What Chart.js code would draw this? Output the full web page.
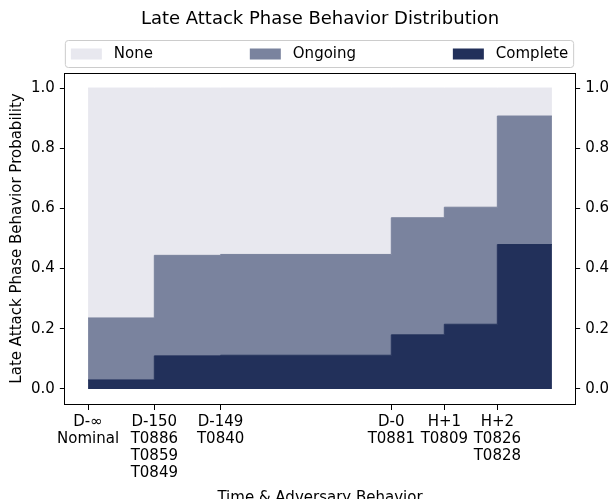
<!DOCTYPE html>
<html>
<head>
<meta charset="utf-8">
<script src="https://cdn.jsdelivr.net/npm/chart.js@4.4.1/dist/chart.umd.min.js"></script>
<style>
  body { margin: 0; background: #fff; }
</style>
</head>
<body>
<canvas id="graficoFases" width="612" height="499"></canvas>
<script>
// Dados
const etapas = [
    ['D-∞', 'Nominal'],
    ['D-150', 'T0886', 'T0859', 'T0849'],
    ['D-149', 'T0840'],
    ['D-0', 'T0881'],
    ['H+1', 'T0809'],
    ['H+2', 'T0826', 'T0828']
];
const posicoes = [0, 1.25, 2.5, 5.72, 6.72, 7.72];
const fimX = 8.75;
const completo = [0.030, 0.110, 0.112, 0.180, 0.215, 0.480];
const emAndamento = [0.206, 0.334, 0.335, 0.389, 0.389, 0.427];
const nenhum = [0.764, 0.556, 0.553, 0.431, 0.396, 0.093];
const ticksY = [0, 0.2, 0.4, 0.6, 0.8, 1.0];

const titulo = 'Late Attack Phase Behavior Distribution';
const cores = { nenhum: '#e8e8ef', andamento: '#7a839e', completo: '#22305a' };
const fonte = 'DejaVu Sans';

Chart.defaults.font.family = fonte;
Chart.defaults.color = '#000';

// cada degrau vale da sua posição até a próxima; o último vai até fimX
function pontos(valores) {
    const lista = posicoes.map((x, i) => ({ x: x, y: valores[i] }));
    lista.push({ x: fimX, y: valores[valores.length - 1] });
    return lista;
}

function serie(label, valores, cor, fill) {
    return {
        label: label,
        data: pontos(valores),
        backgroundColor: cor,
        borderColor: cor,
        borderWidth: 1,
        pointRadius: 0,
        stepped: true,
        fill: fill,
        yAxisID: 'y'
    };
}

// linha de cima do eixo (as outras vêm das bordas das escalas)
const moldura = {
    id: 'moldura',
    afterDraw(chart) {
        const { ctx, chartArea: a } = chart;
        ctx.save();
        ctx.strokeStyle = '#000';
        ctx.lineWidth = 1;
        ctx.beginPath();
        ctx.moveTo(a.left, Math.round(a.top) + 0.5);
        ctx.lineTo(a.right, Math.round(a.top) + 0.5);
        ctx.stroke();
        ctx.restore();
    }
};

// título centrado sobre o eixo + legenda no estilo "expand"
const cabecalho = {
    id: 'cabecalho',
    afterDraw(chart) {
        const { ctx, chartArea: a } = chart;
        ctx.save();
        ctx.fillStyle = '#000';
        ctx.font = '18px "' + fonte + '"';
        ctx.textAlign = 'center';
        ctx.textBaseline = 'middle';
        ctx.fillText(titulo, (a.left + a.right) / 2, 19);

        const itens = [
            { texto: 'None', cor: cores.nenhum },
            { texto: 'Ongoing', cor: cores.andamento },
            { texto: 'Complete', cor: cores.completo }
        ];
        const topo = 40, altura = 27;
        const esq = a.left + 0.5, dir = a.right - 1.5;
        ctx.font = '15px "' + fonte + '"';
        ctx.textAlign = 'left';
        ctx.fillStyle = '#fff';
        ctx.strokeStyle = '#cccccc';
        ctx.lineWidth = 1;
        ctx.beginPath();
        ctx.roundRect(esq, topo + 0.5, dir - esq, altura, 3);
        ctx.fill();
        ctx.stroke();

        const caixaL = 31, caixaA = 11, espaco = 12, margem = 5.5;
        const larguras = itens.map(it => caixaL + espaco + ctx.measureText(it.texto).width);
        const total = larguras.reduce((s, v) => s + v, 0);
        const vao = (dir - esq - 2 * margem - total) / (itens.length - 1);
        let x = esq + margem;
        const meio = topo + altura / 2 + 0.5;
        itens.forEach((it, i) => {
            ctx.fillStyle = it.cor;
            ctx.fillRect(x, meio - caixaA / 2, caixaL, caixaA);
            ctx.fillStyle = '#000';
            ctx.fillText(it.texto, x + caixaL + espaco, meio);
            x += larguras[i] + vao;
        });
        ctx.restore();
    }
};

const ctx = document.getElementById('graficoFases').getContext('2d');
new Chart(ctx, {
    type: 'line',
    data: {
        datasets: [
            serie('Complete', completo, cores.completo, 'origin'),
            serie('Ongoing', emAndamento, cores.andamento, '-1'),
            serie('None', nenhum, cores.nenhum, '-1')
        ]
    },
    options: {
        responsive: false,
        animation: false,
        layout: { padding: { left: 6, right: -2, top: 73, bottom: -8 } },
        plugins: {
            legend: { display: false },
            tooltip: { enabled: false },
            title: { display: false }
        },
        scales: {
            x: {
                type: 'linear',
                min: -0.4375,
                max: 9.1875,
                afterBuildTicks: s => { s.ticks = posicoes.map(v => ({ value: v })); },
                ticks: {
                    autoSkip: false,
                    maxRotation: 0,
                    padding: 3,
                    font: { size: 15, lineHeight: 1.15 },
                    callback: (v, i) => etapas[i]
                },
                grid: { drawOnChartArea: false, color: '#000', tickLength: 6 },
                border: { color: '#000' },
                title: {
                    display: true,
                    text: 'Time & Adversary Behavior',
                    font: { size: 15 },
                    padding: { top: 4, bottom: 0 }
                }
            },
            y: {
                stacked: true,
                min: -0.05,
                max: 1.05,
                afterBuildTicks: s => { s.ticks = ticksY.map(v => ({ value: v })); },
                ticks: { padding: 5, font: { size: 15 }, callback: v => v.toFixed(1) },
                grid: { drawOnChartArea: false, color: '#000', tickLength: 5 },
                border: { color: '#000' },
                title: {
                    display: true,
                    text: 'Late Attack Phase Behavior Probability',
                    font: { size: 15 },
                    padding: { top: 2, bottom: 0 }
                }
            },
            y2: {
                position: 'right',
                min: -0.05,
                max: 1.05,
                afterBuildTicks: s => { s.ticks = ticksY.map(v => ({ value: v })); },
                ticks: { padding: 5, font: { size: 15 }, callback: v => v.toFixed(1) },
                grid: { drawOnChartArea: false, color: '#000', tickLength: 5 },
                border: { color: '#000' }
            }
        }
    },
    plugins: [moldura, cabecalho]
});
</script>
</body>
</html>
